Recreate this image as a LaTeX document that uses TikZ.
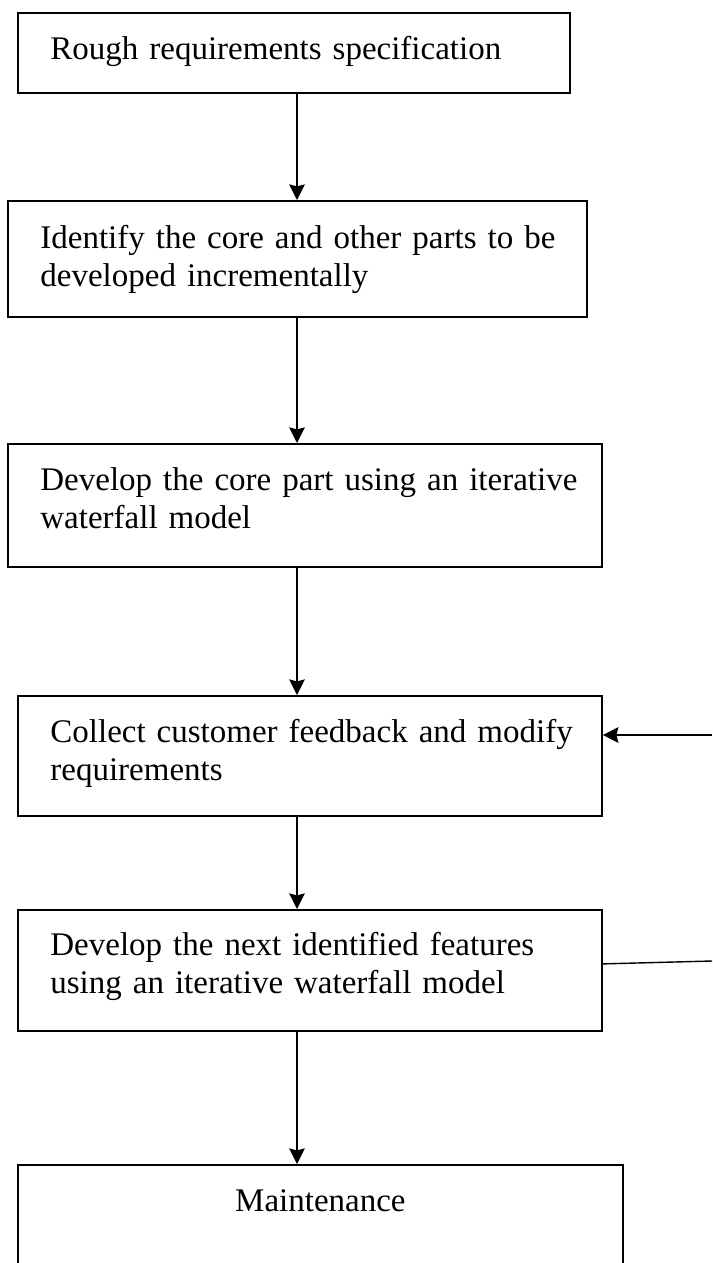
\documentclass[tikz,border=0pt]{standalone}
\usepackage{fontspec}
\setmainfont{Liberation Serif}
\usepackage{tikz}
\usetikzlibrary{arrows.meta}
\newcommand\stagesize{\fontsize{16.5pt}{19pt}\selectfont\fontdimen2\font=3pt\relax}

\begin{document}
\begin{tikzpicture}[x=0.5pt,y=-0.5pt,>={Stealth[length=7.8pt,width=7.8pt,inset=1pt]},
	stage/.style={draw, line width=0.9pt, inner sep=0pt, anchor=north west},
	stagefont/.style={inner sep=0pt, font=\stagesize},
	stagetext/.style={stagefont, anchor=base west, text width=300pt},
	flow/.style={->, line width=0.7pt}]
	\useasboundingbox (0,0) rectangle (712,1263);
	\clip (0,0) rectangle (712,1263);
	%\draw [help lines] (0,0) grid (712,1263);
	% boxes
	\node [stage, minimum width=276pt, minimum height=40pt] (rough) at (17,12) {};
	\node [stage, minimum width=289.5pt, minimum height=58pt] (identify) at (7,200) {};
	\node [stage, minimum width=297pt, minimum height=61.5pt] (core) at (7,443) {};
	\node [stage, minimum width=292pt, minimum height=60pt] (feedback) at (17,695) {};
	\node [stage, minimum width=292pt, minimum height=60.5pt] (next) at (17,909) {};
	\node [stage, minimum width=302.5pt, minimum height=70pt] (maint) at (17,1164) {};
	% texts
	\node [stagetext] (roughtxt) at ([xshift=16.5pt,yshift=-24pt]rough.north west) {Rough requirements specification};
	\node [stagetext] (identifytxt) at ([xshift=16.5pt,yshift=-24pt]identify.north west) {Identify the core and other parts to be\\developed incrementally};
	\node [stagetext] (coretxt) at ([xshift=16.5pt,yshift=-23.5pt]core.north west) {Develop the core part using an iterative\\waterfall model};
	\node [stagetext] (feedbacktxt) at ([xshift=16.5pt,yshift=-23.5pt]feedback.north west) {Collect customer feedback and modify\\requirements};
	\node [stagetext] (nexttxt) at ([xshift=16.5pt,yshift=-23pt]next.north west) {Develop the next identified features\\using an iterative waterfall model};
	\node [stagefont, anchor=base] (mainttxt) at ([yshift=-23.5pt]maint.north) {Maintenance};
	% connectors
	\coordinate (spine) at (297,0);
	\draw [flow] (rough.south -| spine) -- (identify.north -| spine);
	\draw [flow] (identify.south -| spine) -- (core.north -| spine);
	\draw [flow] (core.south -| spine) -- (feedback.north -| spine);
	\draw [flow] (feedback.south -| spine) -- (next.north -| spine);
	\draw [flow] (next.south -| spine) -- (maint.north -| spine);
	% loop back, leaves the page on the right
	\coordinate (loopin) at (712,735);
	\coordinate (loopout) at (712,961);
	\draw [flow] (loopin) -- (loopin -| feedback.east);
	\draw [line width=0.7pt] ([yshift=3.25pt]next.east) -- (loopout);
\end{tikzpicture}
\end{document}
